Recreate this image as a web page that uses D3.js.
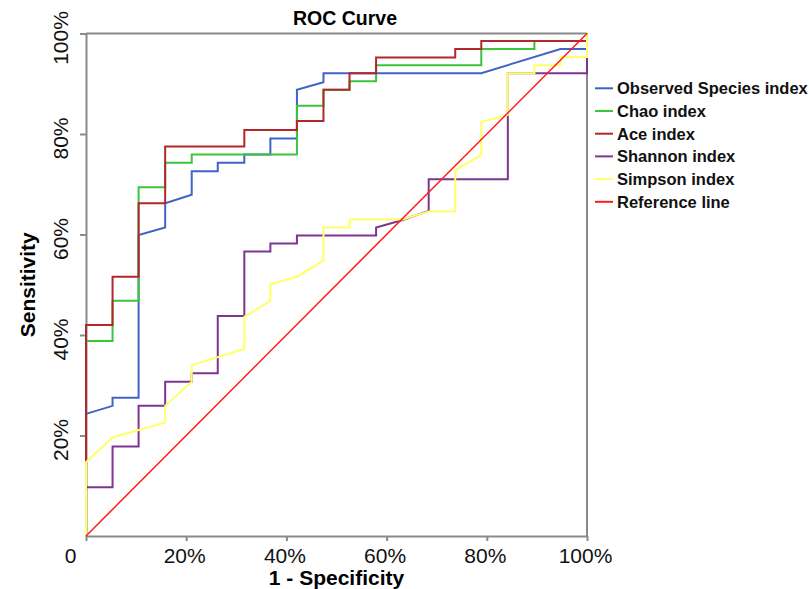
<!DOCTYPE html>
<html>
<head>
<meta charset="utf-8">
<script src="https://cdn.jsdelivr.net/npm/d3@7"></script>
<style>
  body { margin: 0; background: #fff; }
  text { font-family: "Liberation Sans", Arial, sans-serif; }
</style>
</head>
<body>
<div id="my_dataviz"></div>
<script>
// ROC points: [1 - specificity %, sensitivity %]
const observedSpecies = [[0,0],[0,24.3],[5.3,25.9],[5.3,27.5],[10.5,27.5],[10.5,59.9],[15.8,61.4],[15.8,66.2],[21.1,67.9],[21.1,72.6],[26.3,72.6],[26.3,74.3],[31.6,74.3],[31.6,75.9],[36.8,75.9],[36.8,79.1],[42.1,79.1],[42.1,88.8],[47.4,90.3],[47.4,92.1],[78.9,92.1],[94.7,96.9],[100,96.9],[100,100]];
const chao = [[0,0],[0,38.8],[5.3,38.8],[5.3,46.8],[10.5,46.8],[10.5,69.4],[15.8,69.4],[15.8,74.3],[21.1,74.3],[21.1,75.9],[42.1,75.9],[42.1,85.6],[47.4,85.6],[47.4,88.8],[52.6,88.8],[52.6,90.5],[57.9,90.5],[57.9,93.7],[78.9,93.7],[78.9,96.9],[89.5,96.9],[89.5,98.5],[100,98.5],[100,100]];
const ace = [[0,0],[0,42.0],[5.3,42.0],[5.3,51.6],[10.5,51.6],[10.5,66.2],[15.8,66.2],[15.8,77.5],[31.6,77.5],[31.6,80.8],[42.1,80.8],[42.1,82.6],[47.4,82.6],[47.4,88.8],[52.6,88.8],[52.6,92.1],[57.9,92.1],[57.9,95.2],[73.7,95.2],[73.7,96.9],[78.9,96.9],[78.9,98.5],[100,98.5],[100,100]];
const shannon = [[0,0],[0,9.7],[5.3,9.7],[5.3,17.8],[10.5,17.8],[10.5,25.9],[15.8,25.9],[15.8,30.7],[21.1,30.7],[21.1,32.4],[26.3,32.4],[26.3,43.8],[31.6,43.8],[31.6,56.6],[36.8,56.6],[36.8,58.2],[42.1,58.2],[42.1,59.8],[57.9,59.8],[57.9,61.4],[63.2,62.9],[68.4,64.7],[68.4,71.0],[84.2,71.0],[84.2,92.1],[100,92.1],[100,100]];
const simpson = [[0,0],[0,14.7],[5.3,19.6],[15.8,22.6],[15.8,25.9],[21.1,30.7],[21.1,34.0],[31.6,37.2],[31.6,43.6],[36.8,46.8],[36.8,50.1],[42.1,51.6],[47.4,54.8],[47.4,61.4],[52.6,61.4],[52.6,63.0],[63.2,63.0],[68.4,64.6],[73.7,64.6],[73.7,72.8],[78.9,75.8],[78.9,82.4],[84.2,83.8],[84.2,92.1],[89.5,92.1],[89.5,93.7],[94.7,93.7],[94.7,95.3],[100,95.3],[100,100]];
const referenceLine = [[0,0],[100,100]];

const seriesNames = ["Observed Species index", "Chao index", "Ace index", "Shannon index", "Simpson index", "Reference line"];
const seriesData = [observedSpecies, chao, ace, shannon, simpson, referenceLine];
const seriesColors = ["#4063c6", "#3cc43c", "#b3262b", "#7f3493", "#ffff66", "#ff1a1a"];
const xTicks = [0, 20, 40, 60, 80, 100];
const yTicks = [20, 40, 60, 80, 100];

const margin = { top: 33.5, right: 222, bottom: 53, left: 86 },
    width = 809 - margin.left - margin.right,
    height = 589 - margin.top - margin.bottom;

const svg = d3.select("#my_dataviz")
    .append("svg")
    .attr("width", 809)
    .attr("height", 589);

const chart = svg.append("g")
    .attr("transform", `translate(${margin.left},${margin.top})`);

const x = d3.scaleLinear().domain([0, 100]).range([0, width]);
const y = d3.scaleLinear().domain([0, 100]).range([height, 0]);

const axisColor = "#8a8a8a";

// frame: top and right
chart.append("line")
    .attr("x1", 0).attr("x2", width).attr("y1", 0).attr("y2", 0)
    .attr("stroke", axisColor).attr("stroke-width", 2);
chart.append("line")
    .attr("x1", width).attr("x2", width).attr("y1", 0).attr("y2", height)
    .attr("stroke", axisColor).attr("stroke-width", 2);

// x axis
const xAxis = chart.append("g")
    .attr("transform", `translate(0, ${height})`)
    .call(d3.axisBottom(x).tickValues(xTicks).tickSize(5).tickSizeOuter(0)
        .tickFormat(d => d === 0 ? "0" : d + "%"));
xAxis.select(".domain").attr("stroke", axisColor).attr("stroke-width", 2);
xAxis.selectAll(".tick line").attr("stroke", axisColor).attr("stroke-width", 2);
xAxis.selectAll(".tick text")
    .attr("fill", "#111")
    .attr("font-size", 21)
    .attr("font-family", "'Liberation Sans', Arial, sans-serif")
    .attr("dy", null)
    .attr("y", 27)
    .attr("dx", d => d === 0 ? -16 : -2);

// y axis
const yAxis = chart.append("g")
    .call(d3.axisLeft(y).tickValues(yTicks).tickSize(6).tickSizeOuter(0)
        .tickFormat(d => d + "%"));
yAxis.select(".domain").attr("stroke", axisColor).attr("stroke-width", 2);
yAxis.selectAll(".tick line").attr("stroke", axisColor).attr("stroke-width", 2);
yAxis.selectAll(".tick text")
    .attr("fill", "#111")
    .attr("font-size", 21)
    .attr("font-family", "'Liberation Sans', Arial, sans-serif")
    .attr("x", null).attr("dy", null)
    .attr("text-anchor", "middle")
    .attr("transform", "translate(-18, 4) rotate(-90)");

// curves
const line = d3.line()
    .x(d => x(d[0]))
    .y(d => y(d[1]));

chart.selectAll(".curve")
    .data(seriesData)
    .join("path")
    .attr("class", "curve")
    .attr("fill", "none")
    .attr("stroke", (d, i) => seriesColors[i])
    .attr("stroke-width", (d, i) => i === 5 ? 1.5 : 2)
    .attr("d", d => line(d));

// title and axis titles
svg.append("text")
    .attr("x", 345).attr("y", 25)
    .attr("text-anchor", "middle")
    .attr("font-weight", "bold")
    .attr("font-size", 19.5)
    .text("ROC Curve");

svg.append("text")
    .attr("x", margin.left + width / 2).attr("y", 585)
    .attr("text-anchor", "middle")
    .attr("font-weight", "bold")
    .attr("font-size", 21)
    .text("1 - Specificity");

svg.append("text")
    .attr("transform", `translate(35, ${margin.top + height / 2}) rotate(-90)`)
    .attr("text-anchor", "middle")
    .attr("font-weight", "bold")
    .attr("font-size", 21)
    .text("Sensitivity");

// legend
const legend = svg.append("g").attr("transform", "translate(595, 88.3)");
const rows = legend.selectAll("g")
    .data(seriesNames)
    .join("g")
    .attr("transform", (d, i) => `translate(0, ${i * 22.7})`);
rows.append("line")
    .attr("x1", 0).attr("x2", 18)
    .attr("stroke", (d, i) => seriesColors[i])
    .attr("stroke-width", 2);
rows.append("text")
    .attr("x", 22).attr("y", 6)
    .attr("font-weight", "bold")
    .attr("font-size", 16.5)
    .attr("fill", "#111")
    .text(d => d);
</script>
</body>
</html>
